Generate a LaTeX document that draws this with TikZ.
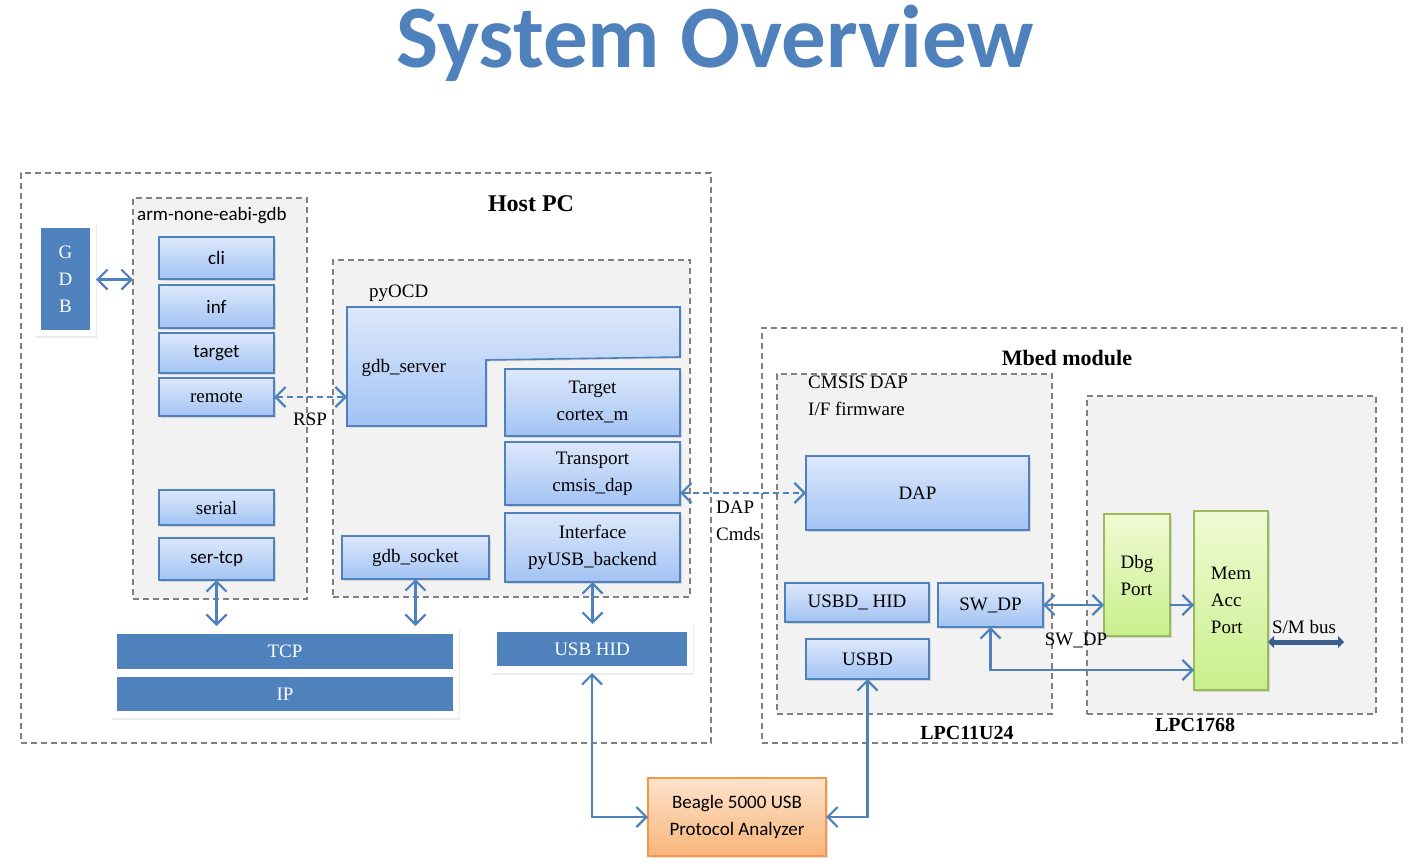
\documentclass[tikz,border=0pt]{standalone}
\usepackage{fontspec}
\setmainfont{Liberation Serif}
\newfontfamily\calfont{Carlito}
\usetikzlibrary{arrows.meta,shadows}

\definecolor{oblue}{HTML}{4F81BD}
\definecolor{boxtop}{HTML}{DDE8FB}
\definecolor{boxbot}{HTML}{A2C3F4}
\definecolor{grpfill}{HTML}{F2F2F2}
\definecolor{dashgrey}{HTML}{808080}
\definecolor{grntop}{HTML}{F1FAD4}
\definecolor{grnbot}{HTML}{C8F08C}
\definecolor{grnline}{HTML}{9BBB59}
\definecolor{orgtop}{HTML}{FDE3CC}
\definecolor{orgbot}{HTML}{F8B57A}
\definecolor{orgline}{HTML}{F79646}
\definecolor{busblue}{HTML}{3A5F8C}

\tikzset{
  sz/.style 2 args={minimum width=#1, minimum height=#2},
  txt/.style={font=\fontsize{19}{27}\selectfont},
  cal/.style={font=\calfont\fontsize{19}{27}\selectfont},
  heading/.style={font=\bfseries\fontsize{24}{24}\selectfont},
  frame/.style={draw=dashgrey, line width=1.5pt, dash pattern=on 6pt off 4pt, anchor=north west, outer sep=0pt},
  group/.style={frame, fill=grpfill},
  box/.style={draw=oblue, line width=1.6pt, top color=boxtop, bottom color=boxbot, anchor=north west,
    outer sep=0pt, inner sep=1pt, align=center, txt,
    drop shadow={opacity=0.25, shadow xshift=1.5pt, shadow yshift=-1.5pt}},
  greenbox/.style={box, draw=grnline, top color=grntop, bottom color=grnbot},
  panel/.style={fill=white, anchor=north west, outer sep=0pt,
    drop shadow={opacity=0.15, shadow xshift=1pt, shadow yshift=-2pt}},
  bar/.style={fill=oblue, text=white, anchor=north west, outer sep=0pt, align=center, txt},
  link/.style={draw=oblue, line width=2.2pt},
  dlink/.style={link, dash pattern=on 6pt off 4pt},
  bus/.style={draw=busblue, line width=5pt, {Triangle[length=6pt,width=12pt]}-{Triangle[length=6pt,width=12pt]}}
}

\begin{document}
\begin{tikzpicture}[x=1pt, y=-1pt, >={Straight Barb[length=10pt,width=20pt,line width=2.2pt]}]
  \useasboundingbox (0,0) rectangle (1425,867);

  % title
  \node[anchor=base, text=oblue, font=\calfont\bfseries\fontsize{89}{89}\selectfont] (title) at (715,68) {System Overview};

  % host side
  \node[frame, sz={690}{570}] (host) at (21,173) {};
  \node[heading, anchor=base] (hostlbl) at (531,211) {Host PC};
  \node[group, sz={174}{401}] (armgdb) at (133,198) {};
  \node[cal, anchor=base west, inner sep=0pt] (armlbl) at (137,220) {arm-none-eabi-gdb};
  \node[group, sz={357}{337}] (pyocd) at (333,260) {};
  \node[txt, anchor=base west, inner sep=0pt] (pyocdlbl) at (369,297) {pyOCD};

  \node[panel, sz={61}{113}] (gdbpanel) at (35,223) {};
  \node[bar, sz={49}{102}] (gdb) at (41,228) {G\\D\\B};

  \node[box, cal, sz={115}{42}] (cli) at (159,237) {cli};
  \node[box, cal, sz={115}{43}] (inf) at (159,285) {inf};
  \node[box, cal, sz={115}{40}] (target) at (159,333) {target};
  \node[box, sz={115}{38}] (remote) at (159,378) {remote};
  \node[box, sz={115}{35}] (serial) at (159,490) {serial};
  \node[box, cal, sz={115}{42}] (sertcp) at (159,538) {ser-tcp};

  \draw[draw=oblue, line width=1.6pt, top color=boxtop, bottom color=boxbot,
    drop shadow={opacity=0.25, shadow xshift=1.5pt, shadow yshift=-1.5pt}]
    (347,307) -- (680,307) -- (680,357) -- (486,360) -- (486,426) -- (347,426) -- cycle;
  \node[txt, anchor=west] (gdbsrv) at (358,368) {gdb\_server};
  \coordinate (srvin) at (347,397);

  \node[box, sz={175}{67}] (cortex) at (505,369) {Target\\cortex\_m};
  \node[box, sz={175}{63}] (transport) at (505,442) {Transport\\cmsis\_dap};
  \node[box, sz={175}{69}] (iface) at (505,513) {Interface\\pyUSB\_backend};
  \node[box, sz={147}{43}] (gdbsock) at (342,536) {gdb\_socket};

  \node[panel, sz={348}{92}] (tcpip) at (111,626) {};
  \node[bar, sz={336}{35}] (tcp) at (117,634) {TCP};
  \node[bar, sz={336}{34}] (ip) at (117,677) {IP};
  \node[panel, sz={202}{49}] (usbpanel) at (491,624) {};
  \node[bar, sz={190}{34}] (usbhid) at (497,632) {USB HID};

  % mbed side
  \node[frame, sz={640}{415}] (mbed) at (762,328) {};
  \node[heading, anchor=base, font=\bfseries\fontsize{22}{22}\selectfont] (mbedlbl) at (1067,365) {Mbed module};
  \node[group, sz={275}{340}] (lpc11) at (777,374) {};
  \node[txt, anchor=base west, align=left, inner sep=0pt] (cmsislbl) at (808,415) {CMSIS DAP\\I/F firmware};
  \node[heading, anchor=base, font=\bfseries\fontsize{20}{20}\selectfont] (lpc11lbl) at (967,739) {LPC11U24};
  \node[group, sz={289}{318}] (lpc17) at (1087,396) {};
  \node[heading, anchor=base, font=\bfseries\fontsize{20}{20}\selectfont] (lpc17lbl) at (1195,731) {LPC1768};

  \node[box, sz={223}{74}] (dap) at (806,456) {DAP};
  \node[box, sz={144}{39}] (usbdhid) at (785,583) {USBD\_ HID};
  \node[box, sz={105}{44}] (swdp) at (938,583) {SW\_DP};
  \node[box, sz={123}{40}] (usbd) at (806,639) {USBD};
  \node[greenbox, align=left, sz={66}{122}] (dbg) at (1104,514) {Dbg\\Port};
  \node[greenbox, align=left, sz={74}{179}] (mem) at (1194,511) {Mem\\Acc\\Port};

  \node[draw=orgline, line width=1.6pt, top color=orgtop, bottom color=orgbot, anchor=north west,
    outer sep=0pt, align=center, cal, sz={178}{78},
    drop shadow={opacity=0.25, shadow xshift=1.5pt, shadow yshift=-1.5pt}] (beagle) at (648,778) {Beagle 5000 USB\\Protocol Analyzer};

  % connectors
  \draw[link, <->] (gdbpanel.east) -- (gdbpanel.east -| armgdb.west);
  \draw[dlink, <->] (remote.east) -- (srvin);
  \node[txt] (rsplbl) at (310,419) {RSP};
  \draw[dlink, <->] (transport.east |- dap.west) -- (dap.west);
  \node[txt, anchor=base west, align=left, inner sep=0pt] (dapcmds) at (716,540) {DAP\\Cmds};
  \draw[link, <->] (sertcp.south) -- (sertcp.south |- tcpip.north);
  \draw[link, <->] (gdbsock.south) -- (gdbsock.south |- tcpip.north);
  \draw[link, <->] (iface.south) -- (iface.south |- usbpanel.north);
  \draw[link, <->] (usbpanel.south) |- (beagle.west);
  \draw[link, <->] (usbd.south) |- (beagle.east);

  \draw[link, <->] (swdp.east) -- (swdp.east -| dbg.west);
  \node[txt] (swdplbl) at (1076,640) {SW\_DP};
  \draw[link, ->] (swdp.east -| dbg.east) -- (swdp.east -| mem.west);
  \coordinate (memin) at (1194,670);
  \draw[link, <->] (swdp.south) |- (memin);
  \coordinate (busend) at (1344,642);
  \draw[bus] (mem.east |- busend) -- (busend);
  \node[txt] (buslbl) at (1304,627) {S/M bus};
\end{tikzpicture}
\end{document}
